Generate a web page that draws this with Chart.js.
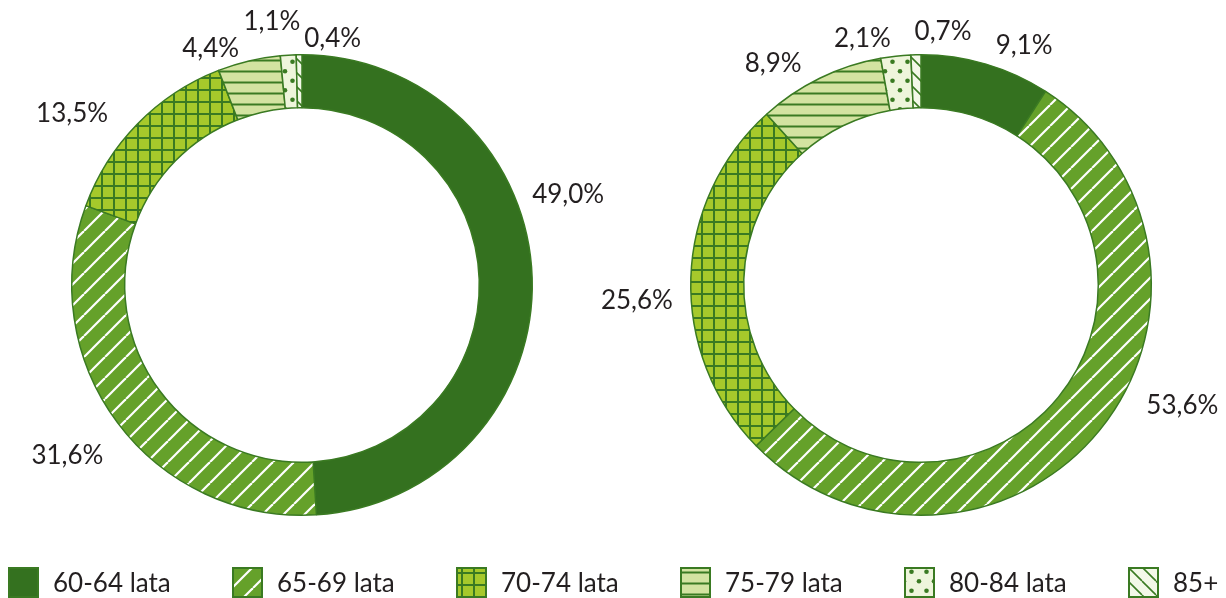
<!DOCTYPE html>
<html lang="pl">
<head>
<meta charset="utf-8">
<script src="https://cdn.jsdelivr.net/npm/chart.js@4.4.1/dist/chart.umd.min.js"></script>
<style>
  html, body { margin: 0; padding: 0; background: #fff; }
  #wrap { position: relative; width: 1226px; height: 598px; overflow: hidden; font-family: Lato, sans-serif; }
  #wrap canvas.pie { position: absolute; left: 0; top: 0; }
  #legend { position: absolute; left: 8px; top: 566px; display: flex; }
  .item { width: 224px; display: flex; align-items: center; gap: 14px; font-size: 26px; color: #231f20; }
  .item canvas { display: block; }
</style>
</head>
<body>
<div id="wrap">
  <canvas id="chartLeft" class="pie" width="1226" height="560"></canvas>
  <canvas id="chartRight" class="pie" width="1226" height="560"></canvas>
  <div id="legend"></div>
</div>
<script>
/* ===== Data ===== */
const categories = ["60-64 lata", "65-69 lata", "70-74 lata", "75-79 lata", "80-84 lata", "85+"];
const valuesLeft = [49.0, 31.6, 13.5, 4.4, 1.1, 0.4];
const valuesRight = [9.1, 53.6, 25.6, 8.9, 2.1, 0.7];

/* ===== Styles ===== */
const LINE = "#3a7a22";
const fills = [
  { kind: "solid",     bg: "#34711f" },
  { kind: "slash",     bg: "#65a12a" },
  { kind: "grid",      bg: "#a6c92b" },
  { kind: "hlines",    bg: "#d3e3a1" },
  { kind: "dots",      bg: "#eef5db" },
  { kind: "backslash", bg: "#f3f8e8" }
];

function makeFill(f){
  if(f.kind === "solid") return f.bg;
  const c = document.createElement("canvas");
  let w = 12, h = 12;
  if(f.kind === "slash"){ w = 21; h = 21; }
  if(f.kind === "backslash"){ w = 14; h = 14; }
  if(f.kind === "hlines"){ w = 11; h = 11; }
  if(f.kind === "dots"){ w = 15; h = 19; }
  c.width = w; c.height = h;
  const g = c.getContext("2d");
  g.fillStyle = f.bg; g.fillRect(0, 0, w, h);
  g.strokeStyle = LINE; g.fillStyle = LINE;
  if(f.kind === "slash"){
    g.strokeStyle = "#fff"; g.lineWidth = 2.2;
    [-w, 0, w].forEach(o => { g.beginPath(); g.moveTo(o, h); g.lineTo(o + w, 0); g.stroke(); });
  } else if(f.kind === "backslash"){
    g.lineWidth = 1.6;
    [-w, 0, w].forEach(o => { g.beginPath(); g.moveTo(o, 0); g.lineTo(o + w, h); g.stroke(); });
  } else if(f.kind === "grid"){
    g.lineWidth = 2;
    g.beginPath(); g.moveTo(6, 0); g.lineTo(6, h); g.moveTo(0, 6); g.lineTo(w, 6); g.stroke();
  } else if(f.kind === "hlines"){
    g.lineWidth = 2;
    g.beginPath(); g.moveTo(0, 5.5); g.lineTo(w, 5.5); g.stroke();
  } else if(f.kind === "dots"){
    [[7.5, 4.75], [0, 14.25], [15, 14.25]].forEach(p => {
      g.beginPath(); g.arc(p[0], p[1], 2.3, 0, Math.PI * 2); g.fill();
    });
  }
  return g.createPattern(c, "repeat");
}

/* ===== Outside labels ===== */
const outLabels = {
  id: "outLabels",
  afterDatasetsDraw(chart, args, opts){
    const ctx = chart.ctx;
    const data = chart.data.datasets[0].data;
    ctx.save();
    ctx.font = "26px Lato";
    ctx.fillStyle = "#231f20";
    ctx.textAlign = "center";
    ctx.textBaseline = "middle";
    chart.getDatasetMeta(0).data.forEach((arc, i) => {
      const p = arc.getProps(["x", "y", "startAngle", "endAngle", "outerRadius"], true);
      const mid = (p.startAngle + p.endAngle) / 2;
      const r = p.outerRadius + opts.gap;
      const n = opts.nudge[i] || [0, 0];
      const txt = data[i].toFixed(1).replace(".", ",") + "%";
      ctx.fillText(txt, p.x + Math.cos(mid) * r + n[0], p.y + Math.sin(mid) * r + n[1] + 1);
    });
    ctx.restore();
  }
};

function makeDonut(id, values, padding, nudge){
  const ctx = document.getElementById(id).getContext("2d");
  return new Chart(ctx, {
    type: "doughnut",
    data: {
      labels: categories,
      datasets: [{
        data: values,
        backgroundColor: fills.map(makeFill),
        borderColor: LINE,
        borderWidth: 1.5
      }]
    },
    options: {
      responsive: false,
      animation: false,
      devicePixelRatio: 1,
      cutout: "77%",
      layout: { padding },
      plugins: {
        legend: { display: false },
        tooltip: { enabled: false },
        outLabels: { gap: 40, nudge }
      }
    },
    plugins: [outLabels]
  });
}

function renderLegend(){
  const box = document.getElementById("legend");
  categories.forEach((name, i) => {
    const item = document.createElement("div");
    item.className = "item";
    const sw = document.createElement("canvas");
    sw.width = 31; sw.height = 31;
    const g = sw.getContext("2d");
    g.fillStyle = makeFill(fills[i]);
    g.fillRect(0, 0, 31, 31);
    g.strokeStyle = LINE; g.lineWidth = 2;
    g.strokeRect(1, 1, 29, 29);
    const span = document.createElement("span");
    span.textContent = name;
    item.append(sw, span);
    box.appendChild(item);
  });
}

function init(){
  makeDonut("chartLeft", valuesLeft,
    { left: 71, right: 693, top: 54, bottom: 44 },
    [[-4, -83], [-18, 8], [-37, 17], [-29, 26], [-14, 5], [34, 23]]);
  makeDonut("chartRight", valuesRight,
    { left: 690, right: 74, top: 54, bottom: 44 },
    [[27, 19], [52, -51], [-14, 23], [-29, 20], [-29, 21], [28, 16]]);
  renderLegend();
}

window.addEventListener("DOMContentLoaded", () => {
  if(document.fonts && document.fonts.load){
    document.fonts.load("26px Lato").then(init, init);
  } else init();
});
</script>
</body>
</html>
